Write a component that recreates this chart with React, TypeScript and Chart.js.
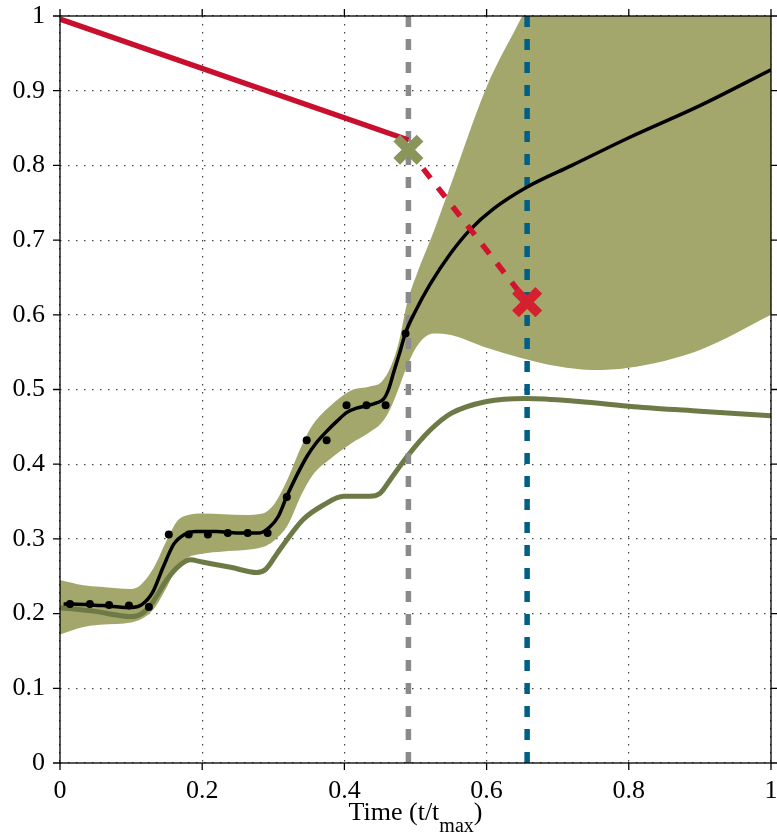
import React, { useEffect, useRef } from 'react';
import { Chart, registerables } from 'chart.js';

Chart.register(...registerables);

const xTicks = [0, 0.2, 0.4, 0.6, 0.8, 1];
const yTicks = [0, 0.1, 0.2, 0.3, 0.4, 0.5, 0.6, 0.7, 0.8, 0.9, 1];

const bandX = [0, 0.033, 0.056, 0.08, 0.1, 0.113, 0.131, 0.15, 0.165, 0.18, 0.2, 0.23, 0.26, 0.285, 0.3, 0.32, 0.34, 0.355, 0.38, 0.41, 0.436, 0.452, 0.465, 0.477, 0.488, 0.502, 0.525, 0.55, 0.6, 0.65, 0.7, 0.75, 0.8, 0.9, 1];
const bandUpper = [0.245, 0.238, 0.236, 0.234, 0.233, 0.238, 0.26, 0.298, 0.324, 0.332, 0.334, 0.333, 0.332, 0.334, 0.345, 0.38, 0.425, 0.452, 0.478, 0.499, 0.504, 0.51, 0.53, 0.565, 0.615, 0.655, 0.71, 0.775, 0.905, 1.0, 1.1, 1.18, 1.25, 1.36, 1.45];
const bandLower = [0.172, 0.182, 0.185, 0.186, 0.188, 0.192, 0.205, 0.235, 0.262, 0.275, 0.28, 0.283, 0.285, 0.289, 0.297, 0.318, 0.36, 0.385, 0.407, 0.428, 0.443, 0.455, 0.475, 0.503, 0.531, 0.558, 0.575, 0.573, 0.556, 0.542, 0.531, 0.526, 0.529, 0.553, 0.6];

const meanX = [0.005, 0.04, 0.07, 0.1, 0.115, 0.13, 0.145, 0.16, 0.175, 0.19, 0.22, 0.25, 0.28, 0.295, 0.307, 0.319, 0.333, 0.347, 0.36, 0.375, 0.39, 0.403, 0.417, 0.431, 0.445, 0.455, 0.462, 0.469, 0.478, 0.486, 0.5, 0.52, 0.55, 0.577, 0.61, 0.657, 0.72, 0.8, 0.9, 1];
const meanY = [0.213, 0.212, 0.21, 0.208, 0.212, 0.228, 0.262, 0.293, 0.306, 0.31, 0.31, 0.308, 0.308, 0.316, 0.33, 0.357, 0.385, 0.41, 0.428, 0.444, 0.458, 0.469, 0.475, 0.478, 0.482, 0.487, 0.5, 0.522, 0.55, 0.576, 0.605, 0.64, 0.683, 0.714, 0.742, 0.771, 0.8, 0.837, 0.88, 0.928];

const obsX = [0.014, 0.042, 0.069, 0.097, 0.125, 0.153, 0.181, 0.208, 0.236, 0.264, 0.292, 0.319, 0.347, 0.375, 0.403, 0.431, 0.458, 0.486];
const obsY = [0.213, 0.213, 0.2115, 0.211, 0.209, 0.306, 0.306, 0.306, 0.308, 0.308, 0.308, 0.356, 0.432, 0.432, 0.479, 0.479, 0.479, 0.575];

const oliveX = [0, 0.05, 0.08, 0.1, 0.115, 0.13, 0.15, 0.165, 0.183, 0.2, 0.24, 0.277, 0.29, 0.305, 0.32, 0.342, 0.37, 0.399, 0.42, 0.436, 0.45, 0.465, 0.488, 0.52, 0.55, 0.6, 0.656, 0.73, 0.807, 0.9, 1];
const oliveY = [0.208, 0.203, 0.198, 0.196, 0.2, 0.215, 0.245, 0.262, 0.272, 0.269, 0.262, 0.255, 0.26, 0.28, 0.3, 0.326, 0.345, 0.357, 0.357, 0.357, 0.361, 0.38, 0.41, 0.445, 0.468, 0.484, 0.488, 0.484, 0.477, 0.471, 0.465];

const redSolidX = [0, 0.49];
const redSolidY = [0.996, 0.834];
const redDashX = [0.49, 0.657];
const redDashY = [0.821, 0.617];
const greenMarkX = [0.49];
const greenMarkY = [0.821];
const redMarkX = [0.657];
const redMarkY = [0.617];
const grayLineX = [0.49, 0.49];
const blueLineX = [0.657, 0.657];
const vLineY = [1, 0];

const pts = (xs: number[], ys: number[]) => xs.map((x, i) => ({ x, y: ys[i] }));

const SERIF = "'Liberation Serif', 'Times New Roman', serif";

const framePlugin = {
  id: 'frame',
  afterDraw(chart: any) {
    const { ctx, chartArea } = chart;
    const { left, right, top, bottom } = chartArea;
    const xs = chart.scales.x;
    const ys = chart.scales.y;
    ctx.save();
    ctx.strokeStyle = '#000';
    ctx.lineWidth = 1.3;
    ctx.strokeRect(left, top, right - left, bottom - top);
    const tl = 7;
    ctx.beginPath();
    xTicks.forEach((v) => {
      const p = xs.getPixelForValue(v);
      ctx.moveTo(p, bottom);
      ctx.lineTo(p, bottom + tl);
      ctx.moveTo(p, top);
      ctx.lineTo(p, top - tl);
    });
    yTicks.forEach((v) => {
      const p = ys.getPixelForValue(v);
      ctx.moveTo(left, p);
      ctx.lineTo(left - tl, p);
      ctx.moveTo(right, p);
      ctx.lineTo(right + tl, p);
    });
    ctx.stroke();

    // axis title with subscript
    const main = 'Time (t/t';
    const sub = 'max';
    const close = ')';
    ctx.fillStyle = '#000';
    ctx.textBaseline = 'alphabetic';
    ctx.textAlign = 'left';
    ctx.font = `26px ${SERIF}`;
    const w1 = ctx.measureText(main).width;
    const w3 = ctx.measureText(close).width;
    ctx.font = `20px ${SERIF}`;
    const w2 = ctx.measureText(sub).width;
    const cx = (left + right) / 2;
    let x0 = cx - (w1 + w2 + w3) / 2;
    const base = 820;
    ctx.font = `26px ${SERIF}`;
    ctx.fillText(main, x0, base);
    x0 += w1;
    ctx.font = `20px ${SERIF}`;
    ctx.fillText(sub, x0, base + 12);
    x0 += w2;
    ctx.font = `26px ${SERIF}`;
    ctx.fillText(close, x0, base);
    ctx.restore();
  },
};

const zeroPad = (s: any) => {
  s.paddingTop = 0;
  s.paddingBottom = 0;
  s.paddingLeft = 0;
  s.paddingRight = 0;
};

export default function App() {
  const ref = useRef<HTMLCanvasElement>(null);
  useEffect(() => {
    if (!ref.current) return;
    Chart.defaults.font.family = SERIF;
    const chart = new Chart(ref.current, {
      type: 'line',
      data: {
        datasets: [
          {
            label: 'lower',
            data: pts(bandX, bandLower),
            borderWidth: 0,
            pointRadius: 0,
            fill: false,
            cubicInterpolationMode: 'monotone',
            order: 20,
          },
          {
            label: 'upper',
            data: pts(bandX, bandUpper),
            borderWidth: 0,
            pointRadius: 0,
            backgroundColor: '#a3a76b',
            fill: '-1',
            cubicInterpolationMode: 'monotone',
            order: 19,
          },
          {
            label: 'olive',
            data: pts(oliveX, oliveY),
            borderColor: '#6e7a46',
            borderWidth: 5,
            pointRadius: 0,
            fill: false,
            cubicInterpolationMode: 'monotone',
            order: 15,
          },
          {
            label: 'gray',
            data: pts(grayLineX, vLineY),
            borderColor: '#8a8a8a',
            borderWidth: 5.5,
            borderDash: [11, 12],
            pointRadius: 0,
            fill: false,
            order: 14,
            clip: 0,
          },
          {
            label: 'blue',
            data: pts(blueLineX, vLineY),
            borderColor: '#005f87',
            borderWidth: 5.5,
            borderDash: [11, 12],
            pointRadius: 0,
            fill: false,
            order: 13,
            clip: 0,
          },
          {
            label: 'mean',
            data: pts(meanX, meanY),
            borderColor: '#000',
            borderWidth: 3.5,
            pointRadius: 0,
            fill: false,
            cubicInterpolationMode: 'monotone',
            order: 12,
          },
          {
            label: 'obs',
            data: pts(obsX, obsY),
            showLine: false,
            pointRadius: 4,
            pointBackgroundColor: '#000',
            pointBorderWidth: 0,
            order: 11,
          },
          {
            label: 'redSolid',
            data: pts(redSolidX, redSolidY),
            borderColor: '#c8102e',
            borderWidth: 5.5,
            pointRadius: 0,
            fill: false,
            order: 10,
          },
          {
            label: 'redDash',
            data: pts(redDashX, redDashY),
            borderColor: '#d0142f',
            borderWidth: 5.5,
            borderDash: [12, 12],
            pointRadius: 0,
            fill: false,
            order: 9,
          },
          {
            label: 'greenX',
            data: pts(greenMarkX, greenMarkY),
            showLine: false,
            pointStyle: 'crossRot',
            pointRadius: 16.5,
            pointBorderWidth: 9.5,
            pointBorderColor: '#8a955a',
            order: 2,
          },
          {
            label: 'redX',
            data: pts(redMarkX, redMarkY),
            showLine: false,
            pointStyle: 'crossRot',
            pointRadius: 16.5,
            pointBorderWidth: 9.5,
            pointBorderColor: '#d4202f',
            order: 1,
          },
        ],
      },
      options: {
        animation: false,
        responsive: false,
        devicePixelRatio: 1,
        layout: { padding: { top: 16, right: 6, left: 0, bottom: 0 }, autoPadding: false },
        plugins: { legend: { display: false }, tooltip: { enabled: false } },
        scales: {
          x: {
            type: 'linear',
            min: 0,
            max: 1,
            afterBuildTicks: (s: any) => {
              s.ticks = xTicks.map((v) => ({ value: v }));
            },
            afterFit: (s: any) => {
              s.height = 72;
              zeroPad(s);
            },
            grid: { color: '#444', lineWidth: 1.2, drawTicks: false },
            border: { display: false, dash: [1.5, 6.5] },
            ticks: {
              color: '#000',
              padding: 13,
              maxRotation: 0,
              font: { family: SERIF, size: 26 },
              callback: (v: any) => String(v),
            },
          },
          y: {
            type: 'linear',
            min: 0,
            max: 1,
            afterBuildTicks: (s: any) => {
              s.ticks = yTicks.map((v) => ({ value: v }));
            },
            afterFit: (s: any) => {
              s.width = 60;
              zeroPad(s);
            },
            grid: { color: '#444', lineWidth: 1.2, drawTicks: false },
            border: { display: false, dash: [1.5, 6.5] },
            ticks: {
              color: '#000',
              padding: 15,
              font: { family: SERIF, size: 26 },
              callback: (v: any) => String(v),
            },
          },
        },
      },
      plugins: [framePlugin],
    } as any);
    return () => chart.destroy();
  }, []);
  return (
    <div style={{ position: 'absolute', left: 0, top: 0, width: 777, height: 835, background: '#fff' }}>
      <canvas ref={ref} width={777} height={835} />
    </div>
  );
}
